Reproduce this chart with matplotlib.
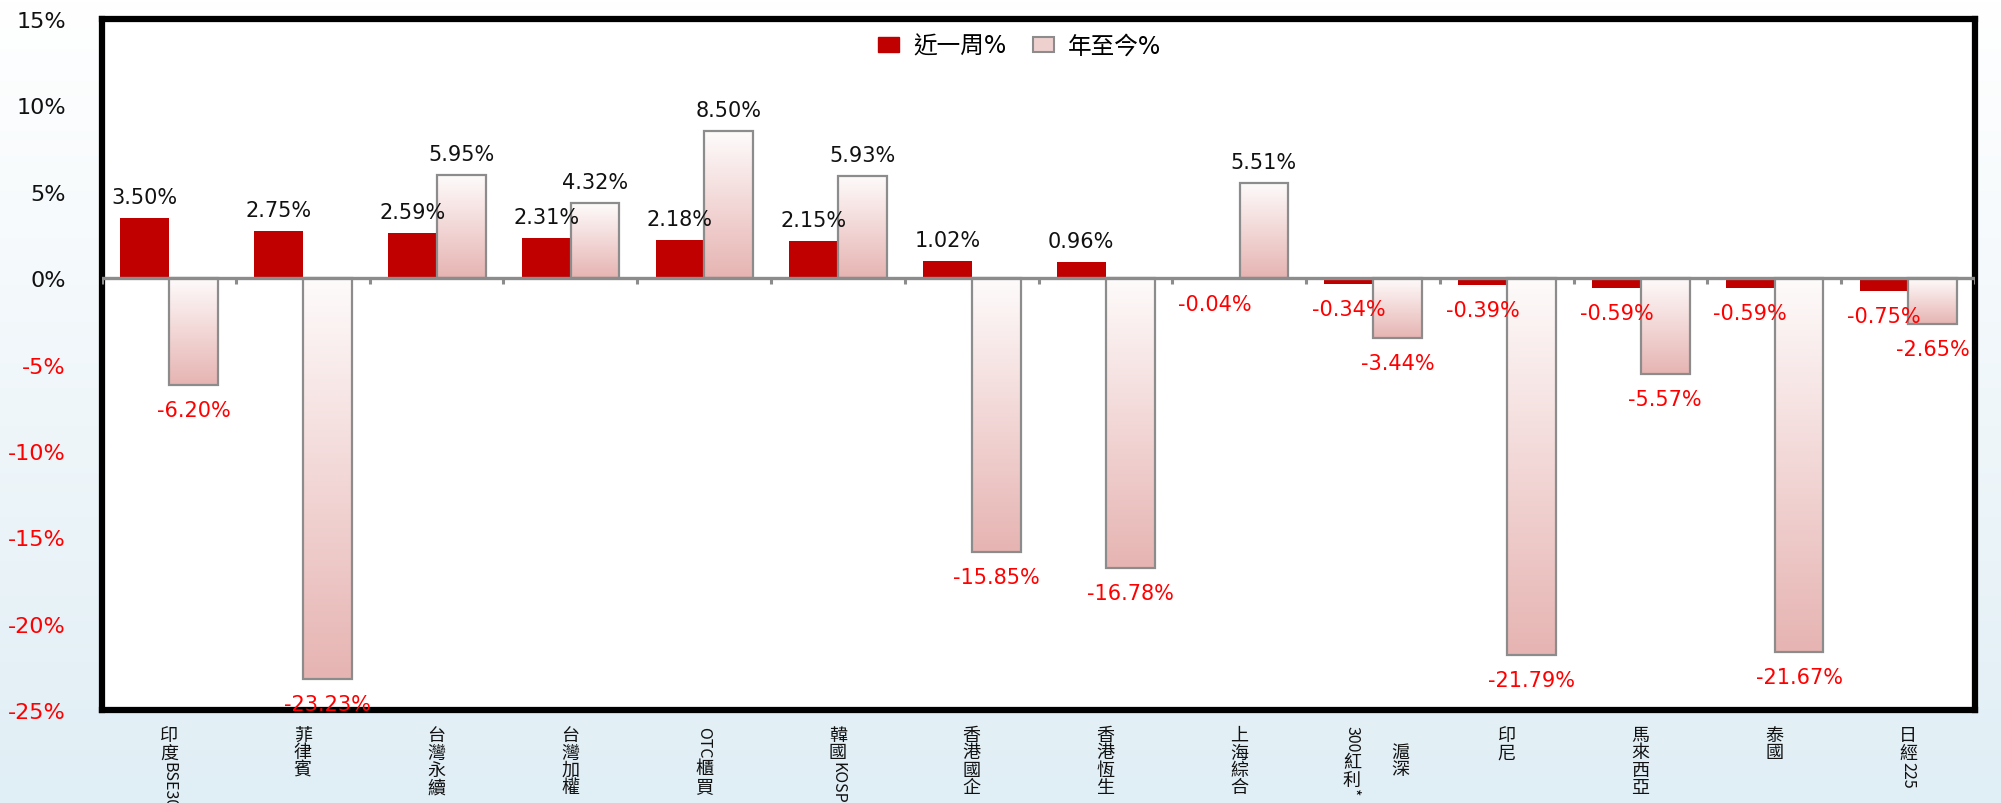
import numpy as np
import matplotlib
matplotlib.use("Agg")
import matplotlib.pyplot as plt
from matplotlib.patches import Patch
from matplotlib.colors import to_rgb
import matplotlib.transforms as mtransforms

plt.rcParams['font.family'] = ['DejaVu Sans', 'Noto Sans CJK TC']

# data
categories = ['印度BSE30', '菲律賓', '台灣永續', '台灣加權', 'OTC櫃買', '韓國KOSPI',
              '香港國企', '香港恆生', '上海綜合', '滬深300紅利*', '印尼', '馬來西亞',
              '泰國', '日經225']
week = [3.50, 2.75, 2.59, 2.31, 2.18, 2.15, 1.02, 0.96, -0.04, -0.34, -0.39, -0.59, -0.59, -0.75]
ytd = [-6.20, -23.23, 5.95, 4.32, 8.50, 5.93, -15.85, -16.78, 5.51, -3.44, -21.79, -5.57, -21.67, -2.65]
series_names = ['近一周%', '年至今%']
yticks = [-25, -20, -15, -10, -5, 0, 5, 10, 15]

RED = '#c00000'
NEG = '#ff0000'
GRAY = '#8c8c8c'
PINK_TOP = '#fefbfb'
PINK_BOT = '#e6b4b2'

fig = plt.figure(figsize=(20.01, 8.04), dpi=100)

# background gradient
bg = fig.add_axes([0, 0, 1, 1], zorder=-5)
c0, c1 = np.array(to_rgb('#ffffff')), np.array(to_rgb('#e0eef5'))
t = np.linspace(0, 1, 256)[:, None, None]
bg.imshow(c0 * (1 - t) + c1 * t, aspect='auto', extent=[0, 1, 0, 1], origin='upper')
bg.axis('off')

ax = fig.add_axes([102 / 2001, 93 / 804, 1873 / 2001, 691 / 804])
ax.set_facecolor('white')

x = np.arange(len(categories))
w = 0.365
xr = x - 0.18
xp = x + 0.185

ax.bar(xr, week, width=w, color=RED, zorder=3)

# gradient bars for ytd
grad_c0, grad_c1 = np.array(to_rgb(PINK_TOP)), np.array(to_rgb(PINK_BOT))
g = grad_c0 * (1 - t) + grad_c1 * t
for xi, v in zip(xp, ytd):
    lo, hi = min(0, v), max(0, v)
    ax.imshow(g, aspect='auto', extent=[xi - w / 2, xi + w / 2, lo, hi],
              origin='upper', zorder=2)
ax.bar(xp, ytd, width=w, facecolor='none', edgecolor=GRAY, linewidth=1.6, zorder=3)

ax.set_xlim(-0.5, len(categories) - 0.5)
ax.set_ylim(-25, 15)

# zero line and small ticks between groups
ax.axhline(0, color=GRAY, lw=2.4, zorder=4)
ax.vlines(np.arange(len(categories) + 1) - 0.5, -0.32, 0, color=GRAY, lw=2.2, zorder=4)

# value labels
for xs, vals in ((xr, week), (xp, ytd)):
    for xi, v in zip(xs, vals):
        off = 21 if v >= 0 else -25
        ax.annotate(f'{v:.2f}%', xy=(xi, v), xytext=(0, off), textcoords='offset pixels',
                    ha='center', va='center', fontsize=15,
                    color='#111111' if v >= 0 else NEG, zorder=6, annotation_clip=False)

# y axis
ax.set_yticks(yticks)
ax.set_yticklabels([f'{v}%' for v in yticks], fontsize=16)
for lab, v in zip(ax.get_yticklabels(), yticks):
    lab.set_color('#111111' if v >= 0 else NEG)
ax.tick_params(axis='y', length=0, pad=26)
ax.set_xticks([])

for s in ax.spines.values():
    s.set_color('black')
    s.set_linewidth(4.5)

# legend
handles = [Patch(facecolor=RED, edgecolor=RED),
           Patch(facecolor='#eed0cf', edgecolor=GRAY, linewidth=1.5)]
ax.legend(handles, series_names, loc='center', bbox_to_anchor=(0.49, 0.961), ncol=2,
          frameon=False, fontsize=17, handlelength=0.9, handleheight=0.55,
          handletextpad=0.6, columnspacing=1.1)

# vertical category labels
renderer = fig.canvas.get_renderer()
trans = mtransforms.blended_transform_factory(ax.transData, ax.transAxes)
wrap = {'滬深300紅利*': 2}


def vertical_text(xc, text, dx, top):
    y = top
    i = 0
    while i < len(text):
        if ord(text[i]) < 128:
            j = i
            while j < len(text) and ord(text[j]) < 128:
                j += 1
            tx = ax.annotate(text[i:j], xy=(xc, 0), xycoords=trans, xytext=(dx, -y),
                             textcoords='offset pixels', rotation=-90, ha='center',
                             va='top', fontsize=11.5, family='Noto Sans CJK TC',
                             color='#111111', annotation_clip=False)
            y += tx.get_window_extent(renderer).height + 2
            i = j
        else:
            ax.annotate(text[i], xy=(xc, 0), xycoords=trans, xytext=(dx, -y),
                        textcoords='offset pixels', ha='center', va='top',
                        fontsize=13, family='Noto Sans CJK TC', color='#111111',
                        annotation_clip=False)
            y += 17.5
            i += 1


for xi, name in zip(x, categories):
    if name in wrap:
        k = wrap[name]
        vertical_text(xi, name[:k], 27, 33)
        vertical_text(xi, name[k:], -21, 15)
    else:
        vertical_text(xi, name, 0, 16)

fig.savefig('out.png', dpi=100)
